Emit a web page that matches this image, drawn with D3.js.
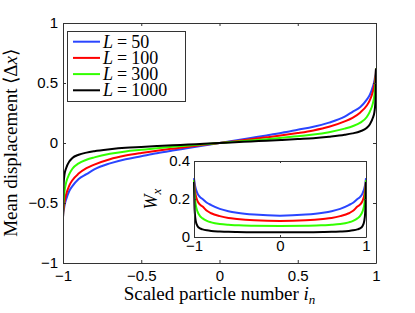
<!DOCTYPE html>
<html>
<head>
<meta charset="utf-8">
<script src="https://cdn.jsdelivr.net/npm/d3@7"></script>
<style>
  body { margin: 0; background: #fff; }
  svg { display: block; }
  .tick text { font-family: "Liberation Sans", Arial, sans-serif; font-size: 15px; fill: #000; }
  .tick line, .domain { stroke: #333; }
  .serif { font-family: "Liberation Serif", "Times New Roman", serif; fill: #000; }
</style>
</head>
<body>
<svg id="chart" width="415" height="313"></svg>
<script>
// main panel: mean displacement vs scaled particle number
var seriesNames = ["50", "100", "300", "1000"];
var colors = ["#2a45ff", "#ff0000", "#33ff00", "#000000"];

var xMain = [-1, -0.998, -0.995, -0.99, -0.98, -0.96, -0.94, -0.9, -0.85, -0.8, -0.7, -0.6, -0.5, -0.4, -0.3, -0.2, -0.1, 0,
  0.1, 0.2, 0.3, 0.4, 0.5, 0.6, 0.7, 0.8, 0.85, 0.9, 0.94, 0.96, 0.98, 0.99, 0.995, 0.998, 1];

var dx50 = [-0.62, -0.58, -0.56, -0.52, -0.47, -0.40, -0.36, -0.30, -0.26, -0.22, -0.17, -0.135, -0.11, -0.085, -0.063, -0.042, -0.021, 0,
  0.021, 0.042, 0.063, 0.085, 0.11, 0.135, 0.17, 0.22, 0.26, 0.30, 0.36, 0.40, 0.47, 0.52, 0.56, 0.58, 0.62];
var dx100 = [-0.62, -0.57, -0.54, -0.49, -0.43, -0.355, -0.31, -0.255, -0.21, -0.18, -0.135, -0.105, -0.083, -0.064, -0.047, -0.031, -0.015, 0,
  0.015, 0.031, 0.047, 0.064, 0.083, 0.105, 0.135, 0.18, 0.21, 0.255, 0.31, 0.355, 0.43, 0.49, 0.54, 0.57, 0.62];
var dx300 = [-0.62, -0.53, -0.47, -0.40, -0.33, -0.26, -0.215, -0.17, -0.14, -0.12, -0.09, -0.07, -0.057, -0.044, -0.032, -0.021, -0.01, 0,
  0.01, 0.021, 0.032, 0.044, 0.057, 0.07, 0.09, 0.12, 0.14, 0.17, 0.215, 0.26, 0.33, 0.40, 0.47, 0.53, 0.62];
var dx1000 = [-0.62, -0.40, -0.32, -0.26, -0.21, -0.155, -0.125, -0.098, -0.08, -0.068, -0.052, -0.04, -0.033, -0.026, -0.019, -0.013, -0.006, 0,
  0.006, 0.013, 0.019, 0.026, 0.033, 0.04, 0.052, 0.068, 0.08, 0.098, 0.125, 0.155, 0.21, 0.26, 0.32, 0.40, 0.62];

// inset: W_x
var xInset = [-1, -0.995, -0.99, -0.98, -0.96, -0.93, -0.9, -0.85, -0.8, -0.7, -0.6, -0.5, -0.3, 0,
  0.3, 0.5, 0.6, 0.7, 0.8, 0.85, 0.9, 0.93, 0.96, 0.98, 0.99, 0.995, 1];
var w50 = [0.31, 0.29, 0.275, 0.255, 0.23, 0.21, 0.2, 0.18, 0.168, 0.148, 0.136, 0.128, 0.118, 0.112,
  0.118, 0.128, 0.136, 0.148, 0.168, 0.18, 0.2, 0.21, 0.23, 0.255, 0.275, 0.29, 0.31];
var w100 = [0.30, 0.27, 0.25, 0.22, 0.19, 0.17, 0.16, 0.138, 0.125, 0.11, 0.1, 0.095, 0.088, 0.084,
  0.088, 0.095, 0.1, 0.11, 0.125, 0.138, 0.16, 0.17, 0.19, 0.22, 0.25, 0.27, 0.30];
var w300 = [0.30, 0.24, 0.21, 0.17, 0.135, 0.11, 0.098, 0.085, 0.077, 0.068, 0.064, 0.062, 0.059, 0.058,
  0.059, 0.062, 0.064, 0.068, 0.077, 0.085, 0.098, 0.11, 0.135, 0.17, 0.21, 0.24, 0.30];
var w1000 = [0.29, 0.17, 0.125, 0.085, 0.058, 0.045, 0.04, 0.035, 0.032, 0.029, 0.027, 0.026, 0.025, 0.025,
  0.025, 0.026, 0.027, 0.029, 0.032, 0.035, 0.04, 0.045, 0.058, 0.085, 0.125, 0.17, 0.29];

var mainTicksX = [-1, -0.5, 0, 0.5, 1];
var mainTicksY = [-1, -0.5, 0, 0.5, 1];
var insetTicksX = [-1, 0, 1];
var insetTicksY = [0, 0.2, 0.4];

var mainSeries = [dx50, dx100, dx300, dx1000];
var insetSeries = [w50, w100, w300, w1000];

var svg = d3.select("#chart");
var fmt = d3.format("~g");

// scales
var x = d3.scaleLinear().domain([-1, 1]).range([63, 376]);
var y = d3.scaleLinear().domain([-1, 1]).range([263, 23]);
var xi = d3.scaleLinear().domain([-1, 1]).range([194, 366]);
var yi = d3.scaleLinear().domain([0, 0.4]).range([237, 161]);

svg.append("clipPath").attr("id", "clipMain")
  .append("rect").attr("x", x(-1)).attr("y", y(1)).attr("width", x(1) - x(-1)).attr("height", y(-1) - y(1));

var line = d3.line()
  .x(function(d) { return x(d[0]); })
  .y(function(d) { return y(d[1]); })
  .curve(d3.curveMonotoneX);

var gLines = svg.append("g").attr("clip-path", "url(#clipMain)");
mainSeries.forEach(function(s, k) {
  gLines.append("path")
    .datum(xMain.map(function(v, i) { return [v, s[i]]; }))
    .attr("d", line)
    .attr("fill", "none")
    .attr("stroke", colors[k])
    .attr("stroke-width", 2);
});

// main axes (ticks point inward, matlab style)
svg.append("g").attr("transform", "translate(0," + y(-1) + ")")
  .call(d3.axisBottom(x).tickValues(mainTicksX).tickFormat(fmt).tickSizeInner(-3).tickSizeOuter(0).tickPadding(7));
svg.append("g").attr("transform", "translate(0," + y(1) + ")")
  .call(d3.axisTop(x).tickValues(mainTicksX).tickFormat("").tickSizeInner(-3).tickSizeOuter(0));
svg.append("g").attr("transform", "translate(" + x(-1) + ",0)")
  .call(d3.axisLeft(y).tickValues(mainTicksY).tickFormat(fmt).tickSizeInner(-3).tickSizeOuter(0).tickPadding(5));
svg.append("g").attr("transform", "translate(" + x(1) + ",0)")
  .call(d3.axisRight(y).tickValues(mainTicksY).tickFormat("").tickSizeInner(-3).tickSizeOuter(0));

// axis titles
var xt = svg.append("text").attr("class", "serif")
  .attr("x", x(0)).attr("y", 300).attr("text-anchor", "middle").style("font-size", "19px");
xt.append("tspan").text("Scaled particle number ");
xt.append("tspan").style("font-style", "italic").text("i");
xt.append("tspan").style("font-style", "italic").style("font-size", "13px").attr("dy", 4).text("n");

var yt = svg.append("text").attr("class", "serif")
  .attr("transform", "translate(17," + y(0) + ") rotate(-90)")
  .attr("text-anchor", "middle").style("font-size", "19px");
yt.append("tspan").text("Mean displacement \u27E8\u0394");
yt.append("tspan").style("font-style", "italic").text("x");
yt.append("tspan").text("\u27E9");

// legend
var leg = svg.append("g");
leg.append("rect").attr("x", 67.5).attr("y", 31.5).attr("width", 118).attr("height", 70)
  .attr("fill", "#fff").attr("stroke", "#333");
seriesNames.forEach(function(name, k) {
  var ly = 41.7 + k * 16.2;
  leg.append("line").attr("x1", 73).attr("x2", 100).attr("y1", ly).attr("y2", ly)
    .attr("stroke", colors[k]).attr("stroke-width", 2);
  var t = leg.append("text").attr("class", "serif").attr("x", 103).attr("y", ly + 6).style("font-size", "18px");
  t.append("tspan").style("font-style", "italic").text("L");
  t.append("tspan").attr("dx", 4).text("=");
  t.append("tspan").attr("dx", 4).text(name);
});

// inset
var gi = svg.append("g");
gi.append("rect").attr("x", xi(-1)).attr("y", yi(0.4)).attr("width", xi(1) - xi(-1)).attr("height", yi(0) - yi(0.4))
  .attr("fill", "#fff");

var lineI = d3.line()
  .x(function(d) { return xi(d[0]); })
  .y(function(d) { return yi(d[1]); })
  .curve(d3.curveMonotoneX);

insetSeries.forEach(function(s, k) {
  gi.append("path")
    .datum(xInset.map(function(v, i) { return [v, s[i]]; }))
    .attr("d", lineI)
    .attr("fill", "none")
    .attr("stroke", colors[k])
    .attr("stroke-width", 2);
});

gi.append("g").attr("transform", "translate(0," + yi(0) + ")")
  .call(d3.axisBottom(xi).tickValues(insetTicksX).tickFormat(fmt).tickSizeInner(-2).tickSizeOuter(0).tickPadding(3));
gi.append("g").attr("transform", "translate(0," + yi(0.4) + ")")
  .call(d3.axisTop(xi).tickValues(insetTicksX).tickFormat("").tickSizeInner(-2).tickSizeOuter(0));
gi.append("g").attr("transform", "translate(" + xi(-1) + ",0)")
  .call(d3.axisLeft(yi).tickValues(insetTicksY).tickFormat(fmt).tickSizeInner(-2).tickSizeOuter(0).tickPadding(4));
gi.append("g").attr("transform", "translate(" + xi(1) + ",0)")
  .call(d3.axisRight(yi).tickValues(insetTicksY).tickFormat("").tickSizeInner(-2).tickSizeOuter(0));

var wt = gi.append("text").attr("class", "serif")
  .attr("transform", "translate(157," + yi(0.2) + ") rotate(-90)")
  .attr("text-anchor", "middle").style("font-size", "18px");
wt.append("tspan").style("font-style", "italic").text("W");
wt.append("tspan").style("font-style", "italic").style("font-size", "13px").attr("dy", 4).text("x");
</script>
</body>
</html>
